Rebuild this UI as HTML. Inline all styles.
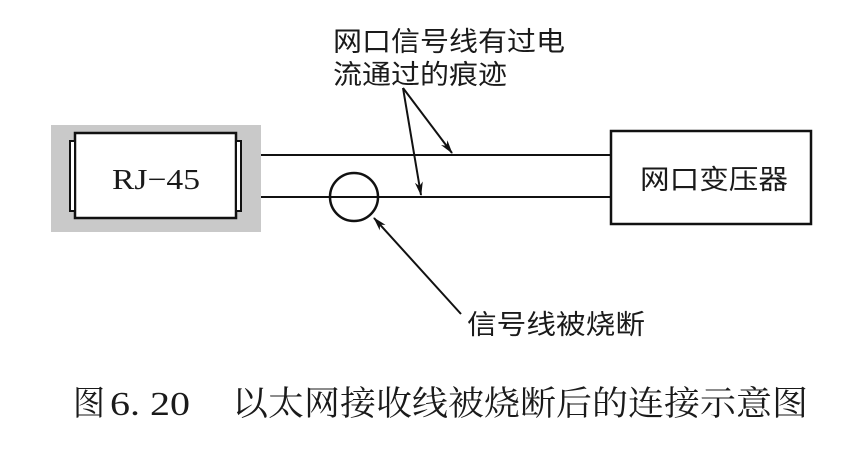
<!DOCTYPE html>
<html><head><meta charset="utf-8"><style>
body{margin:0;background:#fff;}
svg{display:block}
.s{font-family:"Liberation Sans","Noto Sans CJK SC",sans-serif;font-size:27px;fill:#1a1a1a}
.f{font-family:"Liberation Serif","Noto Serif CJK SC",serif;fill:#1a1a1a}
</style></head><body>
<svg width="865" height="465" viewBox="0 0 865 465" xmlns="http://www.w3.org/2000/svg">
<defs><marker id="a" markerWidth="14" markerHeight="8" refX="13" refY="4" orient="auto" markerUnits="userSpaceOnUse"><path d="M0,0 L14,4 L0,8 L4,4 Z" fill="#111"/></marker></defs>
<rect x="51" y="125" width="210" height="107" fill="#c9c9c9"/>
<rect x="75" y="133" width="161" height="85" fill="#fff" stroke="#111" stroke-width="2.5"/>
<rect x="70" y="141" width="5" height="70" fill="#fff" stroke="#111" stroke-width="2"/>
<rect x="236" y="141" width="5" height="70" fill="#fff" stroke="#111" stroke-width="2"/>
<text x="112" y="189" class="f" font-size="29" textLength="88" lengthAdjust="spacingAndGlyphs">RJ−45</text>
<line x1="261" y1="155" x2="610" y2="155" stroke="#111" stroke-width="2"/>
<line x1="261" y1="197" x2="610" y2="197" stroke="#111" stroke-width="2"/>
<rect x="611" y="131" width="200" height="93" fill="#fff" stroke="#111" stroke-width="2.5"/>
<text x="640" y="189" class="s" textLength="148" lengthAdjust="spacingAndGlyphs">网口变压器</text>
<circle cx="354" cy="197" r="24" fill="none" stroke="#111" stroke-width="2.5"/>
<text x="333" y="51" class="s" textLength="232" lengthAdjust="spacingAndGlyphs">网口信号线有过电</text>
<text x="333" y="84" class="s" textLength="174" lengthAdjust="spacingAndGlyphs">流通过的痕迹</text>
<line x1="403" y1="88" x2="452" y2="153" stroke="#111" stroke-width="2" marker-end="url(#a)"/>
<line x1="403" y1="88" x2="421" y2="195" stroke="#111" stroke-width="2" marker-end="url(#a)"/>
<line x1="461" y1="314" x2="374" y2="218" stroke="#111" stroke-width="2" marker-end="url(#a)"/>
<text x="467" y="334" class="s" textLength="178" lengthAdjust="spacingAndGlyphs">信号线被烧断</text>
<text x="73" y="415" class="f" font-size="34" textLength="32" lengthAdjust="spacingAndGlyphs">图</text>
<text x="110" y="415" class="f" font-size="34" textLength="80" lengthAdjust="spacingAndGlyphs">6. 20</text>
<text x="232" y="415" class="f" font-size="34" textLength="576" lengthAdjust="spacingAndGlyphs">以太网接收线被烧断后的连接示意图</text>
</svg>
</body></html>
